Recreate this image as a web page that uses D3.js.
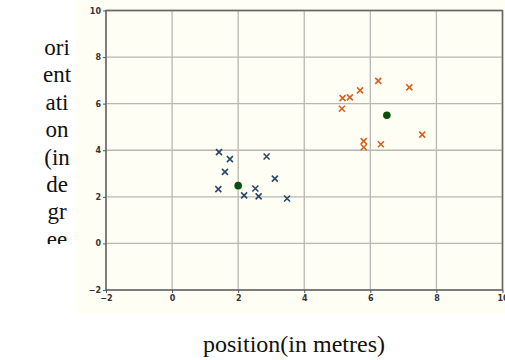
<!DOCTYPE html>
<html>
<head>
<meta charset="utf-8">
<script src="https://cdn.jsdelivr.net/npm/d3@7"></script>
<style>
  body { margin: 0; background: #ffffff; }
  svg { display: block; }
</style>
</head>
<body>
<div id="chart"></div>
<script>
// cluster A (blue crosses)
var blueX = [1.42, 1.75, 1.60, 1.40, 2.18, 2.52, 2.62, 2.86, 3.11, 3.48];
var blueY = [3.92, 3.62, 3.07, 2.33, 2.06, 2.36, 2.02, 3.73, 2.78, 1.93];
// cluster B (orange crosses)
var orangeX = [5.16, 5.38, 5.14, 5.69, 6.24, 7.18, 7.57, 5.80, 5.80, 6.32];
var orangeY = [6.24, 6.27, 5.78, 6.57, 6.98, 6.70, 4.67, 4.39, 4.13, 4.26];
// centroids
var centX = [2.0, 6.5];
var centY = [2.48, 5.5];

var ticks = [-2, 0, 2, 4, 6, 8, 10];
var yLabelLines = ["ori", "ent", "ati", "on", "(in", "de", "gr", "ee"];
var xLabel = "position(in metres)";

var W = 505, H = 360;
var svg = d3.select("#chart").append("svg")
    .attr("width", W)
    .attr("height", H);

// figure background
svg.append("rect")
    .attr("x", 76).attr("y", 0)
    .attr("width", W - 76).attr("height", 313)
    .attr("fill", "#fefef5");

var x = d3.scaleLinear().domain([-2, 10]).range([106, 502.5]);
var y = d3.scaleLinear().domain([-2, 10]).range([290, 10.5]);

// grid
var g = svg.append("g");
g.selectAll(".vg").data(ticks).enter().append("line")
    .attr("x1", function(d) { return x(d); })
    .attr("x2", function(d) { return x(d); })
    .attr("y1", y(-2)).attr("y2", y(10))
    .attr("stroke", "#b8b8b4").attr("stroke-width", 1.3);
g.selectAll(".hg").data(ticks).enter().append("line")
    .attr("y1", function(d) { return y(d); })
    .attr("y2", function(d) { return y(d); })
    .attr("x1", x(-2)).attr("x2", x(10))
    .attr("stroke", "#b8b8b4").attr("stroke-width", 1.3);

// frame
svg.append("rect")
    .attr("x", x(-2)).attr("y", y(10))
    .attr("width", x(10) - x(-2)).attr("height", y(-2) - y(10))
    .attr("fill", "none").attr("stroke", "#6a6a6a").attr("stroke-width", 1.6);

var xAxis = svg.append("g")
    .attr("transform", "translate(0," + y(-2) + ")")
    .call(d3.axisBottom(x).tickValues(ticks).tickSize(3).tickPadding(2)
        .tickFormat(function(d) { return d < 0 ? "\u2212" + (-d) : d; }));
var yAxis = svg.append("g")
    .attr("transform", "translate(" + x(-2) + ",0)")
    .call(d3.axisLeft(y).tickValues(ticks).tickSize(3).tickPadding(2)
        .tickFormat(function(d) { return d < 0 ? "\u2212" + (-d) : d; }));

[xAxis, yAxis].forEach(function(a) {
    a.select(".domain").remove();
    a.selectAll("line").attr("stroke", "#555");
    a.selectAll("text")
        .attr("fill", "#333")
        .style("font-family", "DejaVu Sans")
        .style("font-weight", "bold")
        .style("font-size", "8px");
});

// crosses
function crosses(xs, ys, color) {
    var pts = xs.map(function(v, i) { return [v, ys[i]]; });
    var s = 3;
    svg.append("g").selectAll("path").data(pts).enter().append("path")
        .attr("d", function(d) {
            var cx = x(d[0]), cy = y(d[1]);
            return "M" + (cx - s) + "," + (cy - s) + "L" + (cx + s) + "," + (cy + s) +
                   "M" + (cx - s) + "," + (cy + s) + "L" + (cx + s) + "," + (cy - s);
        })
        .attr("stroke", color)
        .attr("stroke-width", 1.6)
        .attr("fill", "none");
}
crosses(blueX, blueY, "#2a466b");
crosses(orangeX, orangeY, "#d4621c");

svg.append("g").selectAll("circle").data(centX).enter().append("circle")
    .attr("cx", function(d) { return x(d); })
    .attr("cy", function(d, i) { return y(centY[i]); })
    .attr("r", 3.8)
    .attr("fill", "#0b4f0b");

// y label, wrapped narrow and clipped like the original
svg.append("clipPath").attr("id", "ylc")
    .append("rect").attr("x", 0).attr("y", 0).attr("width", 76).attr("height", 244);
svg.append("g").attr("clip-path", "url(#ylc)")
  .selectAll("text").data(yLabelLines).enter().append("text")
    .attr("x", 57)
    .attr("y", function(d, i) { return 55 + i * 27.4; })
    .attr("text-anchor", "middle")
    .style("font-family", "Liberation Serif")
    .style("font-size", "23px")
    .attr("fill", "#111")
    .text(function(d) { return d; });

svg.append("text")
    .attr("x", 294).attr("y", 352)
    .attr("text-anchor", "middle")
    .style("font-family", "Liberation Serif")
    .style("font-size", "24px")
    .attr("fill", "#111")
    .text(xLabel);
</script>
</body>
</html>
